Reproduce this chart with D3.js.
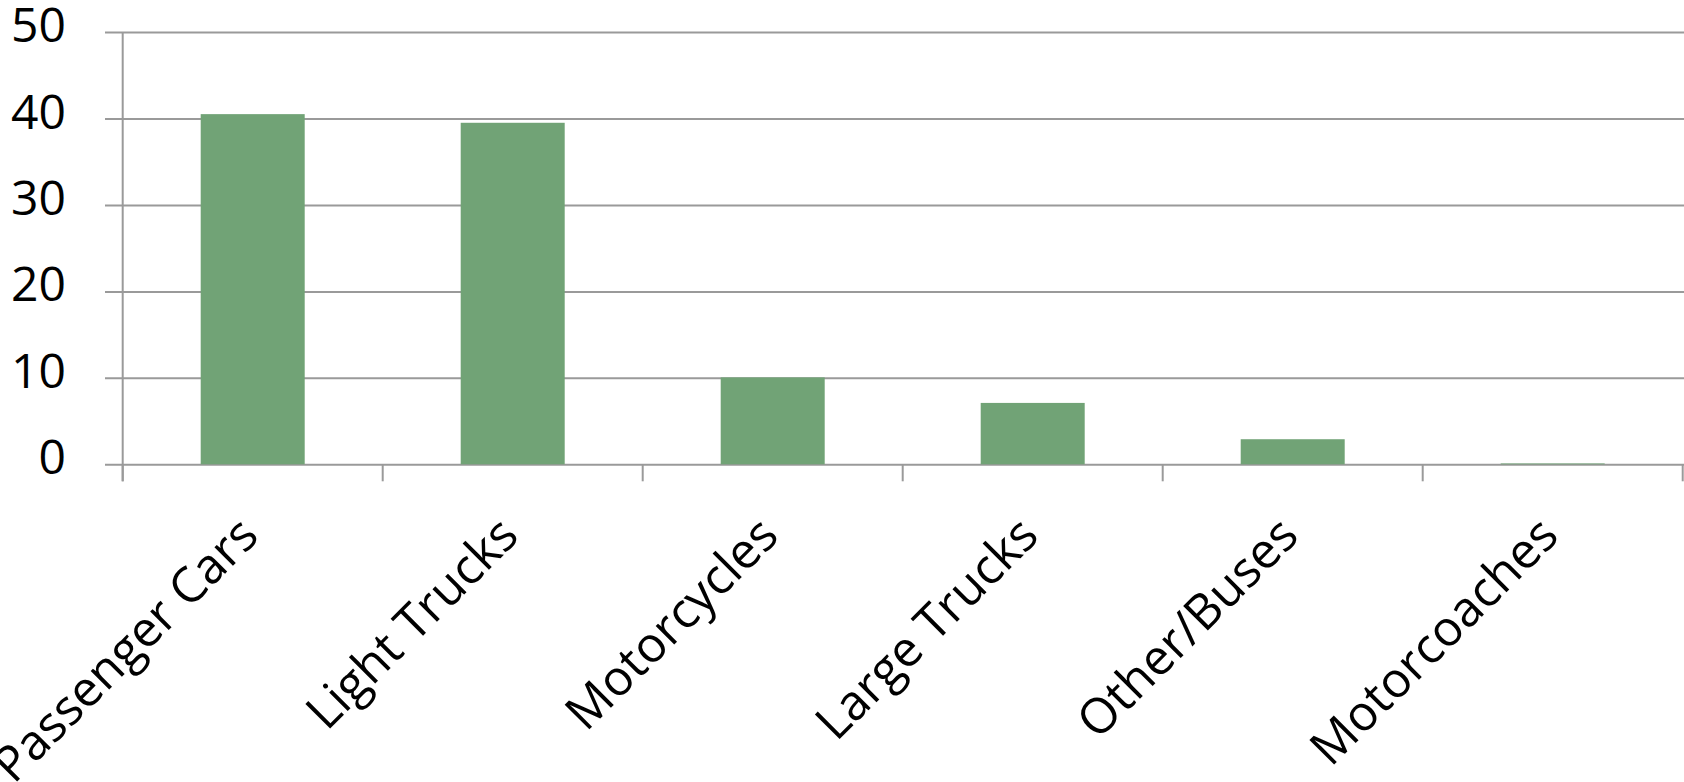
<!DOCTYPE html>
<meta charset="utf-8">
<style>
body { margin: 0; background: #fff; }
.bar { fill: #71a376; }
.grid line { stroke: #9a9a9a; stroke-width: 2px; }
.grid text { font-family: "Open Sans", sans-serif; font-size: 48px; fill: #000; }
.label { font-family: "Open Sans", sans-serif; font-size: 49px; fill: #000; }
</style>
<body>
<script src="https://d3js.org/d3.v7.min.js"></script>
<script>

// data
var categories = ["Passenger Cars", "Light Trucks", "Motorcycles", "Large Trucks", "Other/Buses", "Motorcoaches"];
var values = [40.5, 39.5, 10.05, 7.1, 2.9, 0.1];
var yTicks = [0, 10, 20, 30, 40, 50];

var width = 1684, height = 782;
var plotLeft = 122.7, plotRight = 1682.7, plotTop = 32, plotBottom = 464.3;

var svg = d3.select("body").append("svg")
    .attr("width", width)
    .attr("height", height);

var x = d3.scaleBand()
    .domain(categories)
    .range([plotLeft, plotRight])
    .padding(0);
var y = d3.scaleLinear()
    .domain([0, 50])
    .range([plotBottom, plotTop]);

// horizontal grid lines + y labels
var yAxis = svg.append("g")
    .attr("class", "grid")
    .attr("transform", "translate(" + width + ",0)")
    .call(d3.axisLeft(y).tickValues(yTicks).tickSize(width - 105).tickPadding(39));
yAxis.select(".domain").remove();
yAxis.selectAll("text").attr("dy", "0.2em");

// vertical axis line
svg.append("line")
    .attr("x1", plotLeft).attr("x2", plotLeft)
    .attr("y1", y(50)).attr("y2", plotBottom + 17)
    .attr("stroke", "#9a9a9a").attr("stroke-width", 2);

// bars
svg.selectAll(".bar")
    .data(values)
  .enter().append("rect")
    .attr("class", "bar")
    .attr("x", function(d, i) { return x(categories[i]) + x.bandwidth() * 0.3; })
    .attr("width", x.bandwidth() * 0.4)
    .attr("y", function(d) { return y(d); })
    .attr("height", function(d) { return plotBottom - y(d); });

// x axis ticks at band boundaries
var xAxis = svg.append("g")
    .attr("class", "grid")
    .attr("transform", "translate(0," + plotBottom + ")");
xAxis.selectAll("line")
    .data(d3.range(categories.length + 1))
  .enter().append("line")
    .attr("x1", function(i) { return plotLeft + i * x.step(); })
    .attr("x2", function(i) { return plotLeft + i * x.step(); })
    .attr("y1", 0).attr("y2", 17);

// rotated labels
svg.append("g").selectAll("text")
    .data(categories)
  .enter().append("text")
    .attr("class", "label")
    .attr("transform", function(d) {
      return "translate(" + (x(d) + x.bandwidth() / 2 + 8) + "," + 538 + ") rotate(-45)";
    })
    .attr("text-anchor", "end")
    .text(function(d) { return d; });

</script>
</body>
